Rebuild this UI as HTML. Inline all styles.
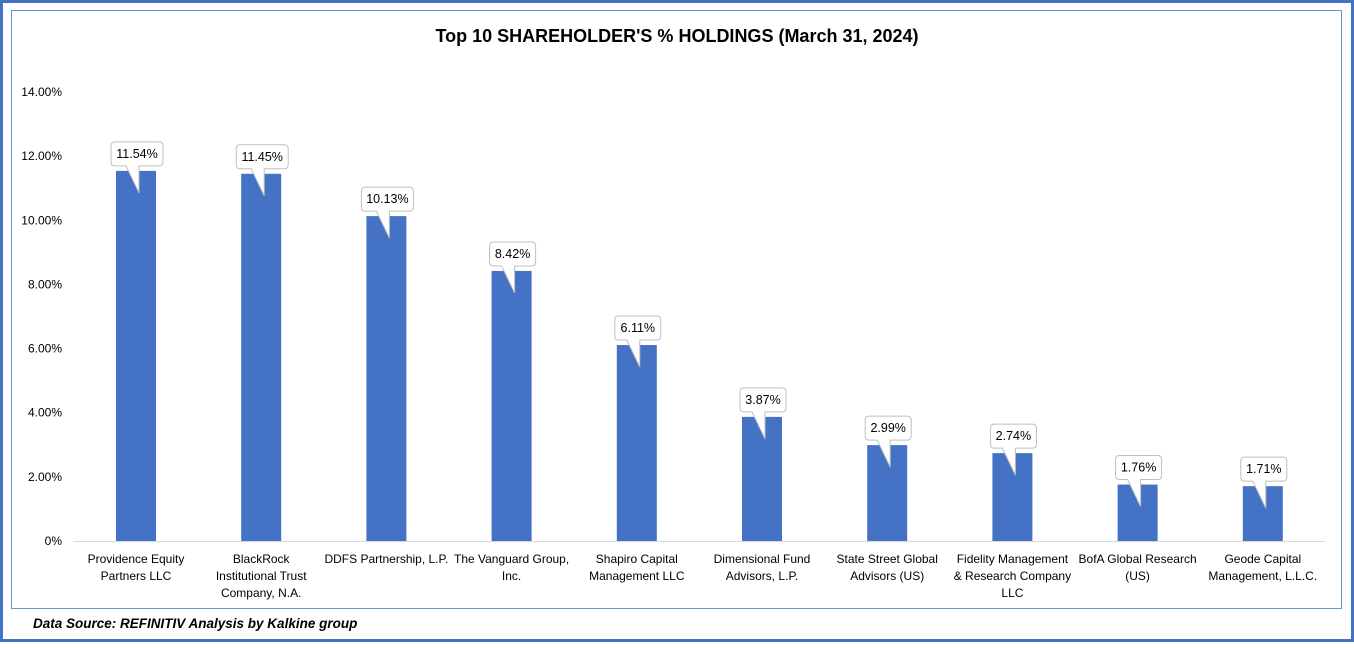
<!DOCTYPE html>
<html><head><meta charset="utf-8"><style>
body{margin:0;width:1354px;height:643px;background:#fff;font-family:"Liberation Sans",Arial,sans-serif;overflow:hidden}
</style></head><body>
<svg width="1354" height="643" xmlns="http://www.w3.org/2000/svg">
<rect x="1.5" y="1.5" width="1351" height="639" fill="none" stroke="#4472c4" stroke-width="3"/>
<rect x="11.5" y="10.5" width="1330" height="598" fill="#fff" stroke="#6f94d6" stroke-width="1"/>
<text x="677" y="42" text-anchor="middle" font-size="18" font-weight="bold" fill="#000">Top 10 SHAREHOLDER'S % HOLDINGS (March 31, 2024)</text>
<g id="yaxis"></g><g id="bars"></g><g id="xlabels"></g>
<text x="33" y="628" font-size="13.5" font-weight="bold" font-style="italic" fill="#000">Data Source: REFINITIV Analysis by Kalkine group</text>
</svg>
<script>
const categories=[["Providence Equity","Partners LLC"],["BlackRock","Institutional Trust","Company, N.A."],["DDFS Partnership, L.P."],["The Vanguard Group,","Inc."],["Shapiro Capital","Management LLC"],["Dimensional Fund","Advisors, L.P."],["State Street Global","Advisors (US)"],["Fidelity Management","& Research Company","LLC"],["BofA Global Research","(US)"],["Geode Capital","Management, L.L.C."]];
const values=[11.54,11.45,10.13,8.42,6.11,3.87,2.99,2.74,1.76,1.71];
const valueLabels=["11.54%","11.45%","10.13%","8.42%","6.11%","3.87%","2.99%","2.74%","1.76%","1.71%"];
const yTicks=[0,2,4,6,8,10,12,14];
const yTickLabels=["0%","2.00%","4.00%","6.00%","8.00%","10.00%","12.00%","14.00%"];
const NS="http://www.w3.org/2000/svg";
const plotL=73.4,plotR=1325.4,y0=541,y14=92;
const y=v=>y0-(v/14)*(y0-y14);
const band=(plotR-plotL)/categories.length;
const xc=i=>plotL+band*(i+0.5);
function mk(t,a,p){const e=document.createElementNS(NS,t);for(const k in a)e.setAttribute(k,a[k]);p.appendChild(e);return e;}
const ya=document.getElementById('yaxis');
yTicks.forEach((t,i)=>{
 const tx=mk('text',{x:62,y:y(t)+4,'text-anchor':'end','font-size':12,fill:'#000'},ya);
 
 
 tx.textContent=yTickLabels[i];
});
const base=mk('line',{x1:plotL,x2:plotR,y1:y0+0.5,y2:y0+0.5,stroke:'#d9d9d9','stroke-width':1},ya);


const bg=document.getElementById('bars'),xl=document.getElementById('xlabels');
values.forEach((v,i)=>{
 const cx=xc(i),top=y(v),bw=40;
 const r=mk('rect',{x:cx-bw/2,y:top,width:bw,height:y0-top,fill:'#4472c4'},bg);
 
 
 const w=valueLabels[i].length>5?52:46,bx=cx-w/2+1,by=top-29,h=24;
 const p=`M${bx+4},${by} H${bx+w-4} Q${bx+w},${by} ${bx+w},${by+4} V${by+h-4} Q${bx+w},${by+h} ${bx+w-4},${by+h} H${cx+3} L${cx+3},${top+22} L${cx-10},${by+h} H${bx+4} Q${bx},${by+h} ${bx},${by+h-4} V${by+4} Q${bx},${by} ${bx+4},${by} Z`;
 const c=mk('path',{d:p,fill:'#fff',stroke:'#bfbfbf','stroke-width':1},bg);
 
 
 const t=mk('text',{x:bx+w/2,y:by+16,'text-anchor':'middle','font-size':12.5,fill:'#000'},bg);
 
 
 t.textContent=valueLabels[i];
 categories[i].forEach((line,j)=>{
  const lt=mk('text',{x:cx,y:563+j*17,'text-anchor':'middle','font-size':12,fill:'#000'},xl);
  
  
  lt.textContent=line;
 });
});
</script>
</body></html>
